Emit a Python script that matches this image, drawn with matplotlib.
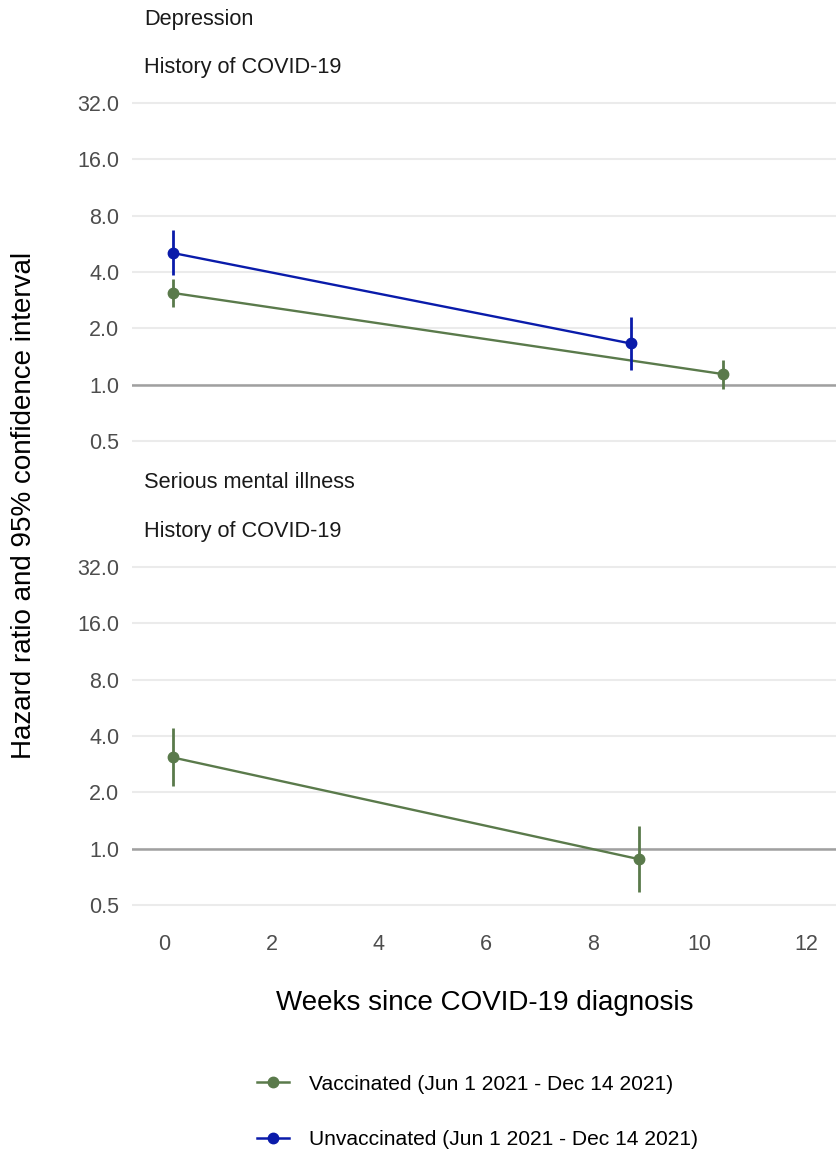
import matplotlib
matplotlib.use('Agg')
import matplotlib.pyplot as plt
from matplotlib.lines import Line2D
import numpy as np

plt.rcParams['font.family'] = ['Liberation Sans', 'DejaVu Sans']

# data
panels = ['Depression', 'Serious mental illness']
subtitle = 'History of COVID-19'

vacc_label = 'Vaccinated (Jun 1 2021 - Dec 14 2021)'
unvacc_label = 'Unvaccinated (Jun 1 2021 - Dec 14 2021)'

dep_vacc_weeks = [0.15, 10.43]
dep_vacc_hr = [3.09, 1.14]
dep_vacc_lo = [2.60, 0.95]
dep_vacc_hi = [3.67, 1.35]

dep_unvacc_weeks = [0.15, 8.71]
dep_unvacc_hr = [5.05, 1.66]
dep_unvacc_lo = [3.85, 1.20]
dep_unvacc_hi = [6.66, 2.30]

smi_vacc_weeks = [0.15, 8.86]
smi_vacc_hr = [3.07, 0.88]
smi_vacc_lo = [2.15, 0.59]
smi_vacc_hi = [4.39, 1.32]

y_ticks = [0.5, 1, 2, 4, 8, 16, 32]
x_ticks = [0, 2, 4, 6, 8, 10, 12]

GREEN = '#5A7A4B'
BLUE = '#0A1BAA'
W, H = 836, 1156


def draw_series(ax, x, hr, lo, hi, color):
    ax.plot(x, hr, color=color, lw=1.7, zorder=3)
    ax.vlines(x, lo, hi, color=color, lw=2.0, zorder=3)
    ax.plot(x, hr, 'o', color=color, ms=7.5, zorder=4)


def style_axis(ax, show_x):
    ax.set_yscale('log', base=2)
    ax.set_ylim(2 ** -1.3, 2 ** 5.3)
    ax.set_xlim(-0.61, 12.55)
    ax.set_yticks(y_ticks)
    ax.set_yticklabels(['{:.1f}'.format(v) for v in y_ticks])
    ax.minorticks_off()
    ax.set_xticks(x_ticks)
    ax.set_frame_on(False)
    ax.tick_params(length=0, labelsize=15.5, colors='#4D4D4D', pad=9)
    ax.grid(axis='y', color='#EBEBEB', lw=1.5)
    ax.set_axisbelow(True)
    # reference line at HR = 1
    ax.axhline(1, color='#A0A0A0', lw=1.8, zorder=2)
    if not show_x:
        ax.set_xticklabels([])


fig = plt.figure(figsize=(W / 100, H / 100), dpi=100)

left = 132 / W
width = 1 - left
ax1 = fig.add_axes([left, 1 - 458 / H, width, (458 - 85.8) / H])
ax2 = fig.add_axes([left, 1 - 922 / H, width, (922 - 549.8) / H])

style_axis(ax1, False)
style_axis(ax2, True)

draw_series(ax1, dep_vacc_weeks, dep_vacc_hr, dep_vacc_lo, dep_vacc_hi, GREEN)
draw_series(ax1, dep_unvacc_weeks, dep_unvacc_hr, dep_unvacc_lo, dep_unvacc_hi, BLUE)
draw_series(ax2, smi_vacc_weeks, smi_vacc_hr, smi_vacc_lo, smi_vacc_hi, GREEN)

# panel titles
for name, y_top, y_sub in [(panels[0], 19, 67), (panels[1], 483, 532)]:
    fig.text(144 / W, 1 - y_top / H, name, ha='left', va='center',
             fontsize=15.7, color='#1A1A1A')
    fig.text(144 / W, 1 - y_sub / H, subtitle, ha='left', va='center',
             fontsize=15.7, color='#1A1A1A')

fig.text(24 / W, 1 - 505 / H, 'Hazard ratio and 95% confidence interval',
         rotation=90, ha='center', va='center', fontsize=20, color='black')
fig.text(485 / W, 1 - 1003 / H, 'Weeks since COVID-19 diagnosis',
         ha='center', va='center', fontsize=20, color='black')

handles = [Line2D([], [], color=GREEN, lw=1.8, marker='o', ms=7.5),
           Line2D([], [], color=BLUE, lw=1.8, marker='o', ms=7.5)]
fig.legend(handles, [vacc_label, unvacc_label], loc='center left',
           bbox_to_anchor=(238 / W, 1 - 1112 / H), frameon=False,
           fontsize=15.1, handlelength=1.55, handletextpad=0.95,
           labelspacing=1.75)

plt.savefig('out.png', dpi=100)
